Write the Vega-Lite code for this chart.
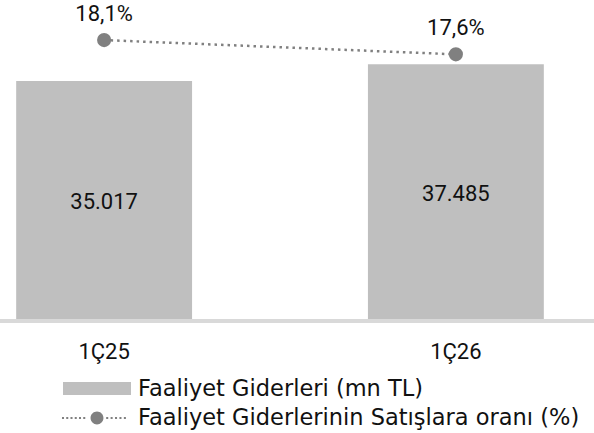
{
  "$schema": "https://vega.github.io/schema/vega-lite/v6.json",
  "width": 594,
  "height": 319,
  "autosize": "none",
  "padding": {"left": 0, "top": 0, "right": 0, "bottom": 114},
  "background": "white",
  "config": {"view": {"stroke": null}, "font": "Roboto"},
  "data": {
    "values": [
      {"q": "1Ç25", "giderler": 35017, "oran": 18.1, "gl": "35.017", "ol": "18,1%"},
      {"q": "1Ç26", "giderler": 37485, "oran": 17.6, "gl": "37.485", "ol": "17,6%"}
    ]
  },
  "layer": [
    {
      "mark": {"type": "bar", "color": "#bfbfbf"},
      "encoding": {
        "x": {
          "field": "q", "type": "nominal", "sort": null,
          "scale": {"range": [0, 560], "paddingInner": 0.5, "paddingOuter": 0.046},
          "axis": {"title": null, "domain": false, "ticks": false, "tickSize": 0, "labelAngle": 0, "labelFont": "Roboto", "labelFontSize": 22, "labelColor": "#111111", "labelPadding": 22}
        },
        "y": {"field": "giderler", "type": "quantitative", "scale": {"domain": [0, 46935], "nice": false}, "axis": null},
        "fill": {
          "datum": "Faaliyet Giderleri (mn TL)", "type": "nominal",
          "scale": {"range": ["#bfbfbf"]},
          "legend": {"orient": "none", "legendX": 63, "legendY": 354.5, "title": null, "padding": 0,
            "symbolType": "M-1,-0.19H1V0.19H-1Z", "symbolSize": 4624, "symbolStrokeWidth": 0,
            "labelFont": "DejaVu Sans", "labelFontSize": 22.5, "labelColor": "#111111", "labelOffset": 7, "labelLimit": 0}
        }
      }
    },
    {
      "mark": {"type": "rule", "color": "#d9d9d9", "strokeWidth": 4, "yOffset": 2},
      "encoding": {
        "y": {"datum": 0, "type": "quantitative", "scale": {"domain": [0, 46935], "nice": false}, "axis": null}
      }
    },
    {
      "mark": {"type": "text", "font": "Roboto", "fontSize": 22, "color": "#111111", "baseline": "middle", "dy": 2},
      "encoding": {
        "x": {"field": "q", "type": "nominal", "sort": null},
        "y": {"field": "giderler", "type": "quantitative", "scale": {"domain": [0, 93870], "nice": false}, "axis": null},
        "text": {"field": "gl"}
      }
    },
    {
      "mark": {"type": "line", "color": "#808080", "strokeWidth": 2.5, "strokeDash": [2.5, 4]},
      "encoding": {
        "x": {"field": "q", "type": "nominal", "sort": null},
        "y": {"field": "oran", "type": "quantitative", "scale": {"domain": [8.35, 19.5], "nice": false, "zero": false}, "axis": null},
        "stroke": {
          "datum": "Faaliyet Giderlerinin Satışlara oranı (%)", "type": "nominal",
          "scale": {"range": ["#808080"]},
          "legend": {"orient": "none", "legendX": 63, "legendY": 384, "title": null, "padding": 0,
            "symbolType": "M-1.03,-0.03h0.06v0.06h-0.06ZM-0.905,-0.03h0.06v0.06h-0.06ZM-0.78,-0.03h0.06v0.06h-0.06ZM-0.655,-0.03h0.06v0.06h-0.06ZM-0.53,-0.03h0.06v0.06h-0.06ZM-0.405,-0.03h0.06v0.06h-0.06ZM0.27,-0.03h0.06v0.06h-0.06ZM0.4,-0.03h0.06v0.06h-0.06ZM0.53,-0.03h0.06v0.06h-0.06ZM0.66,-0.03h0.06v0.06h-0.06ZM0.79,-0.03h0.06v0.06h-0.06ZM-0.19,0a0.19,0.19 0 1,0 0.38,0a0.19,0.19 0 1,0 -0.38,0Z",
            "symbolSize": 4624, "symbolStrokeWidth": 0,
            "labelFont": "DejaVu Sans", "labelFontSize": 22.5, "labelColor": "#111111", "labelOffset": 7, "labelLimit": 0,
            "encode": {"symbols": {"update": {"fill": {"value": "#808080"}, "stroke": {"value": "transparent"}, "strokeWidth": {"value": 0}, "opacity": {"value": 1}}}}
          }
        }
      }
    },
    {
      "mark": {"type": "point", "filled": true, "size": 200, "color": "#808080", "opacity": 1},
      "encoding": {
        "x": {"field": "q", "type": "nominal", "sort": null},
        "y": {"field": "oran", "type": "quantitative", "scale": {"domain": [8.35, 19.5], "nice": false, "zero": false}, "axis": null}
      }
    },
    {
      "mark": {"type": "text", "font": "Roboto", "fontSize": 22, "color": "#111111", "baseline": "alphabetic", "dy": -19.5},
      "encoding": {
        "x": {"field": "q", "type": "nominal", "sort": null},
        "y": {"field": "oran", "type": "quantitative", "scale": {"domain": [8.35, 19.5], "nice": false, "zero": false}, "axis": null},
        "text": {"field": "ol"}
      }
    }
  ],
  "resolve": {"scale": {"y": "independent"}}
}
